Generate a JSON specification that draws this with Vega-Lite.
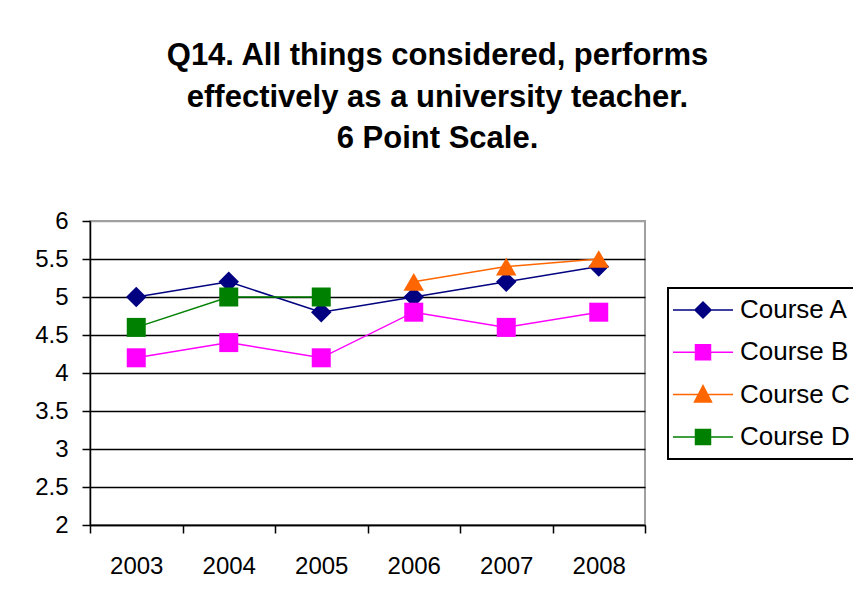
{
  "$schema": "https://vega.github.io/schema/vega-lite/v6.json",
  "width": 555,
  "height": 304,
  "autosize": "none",
  "padding": {"left": 90, "top": 221, "right": 208, "bottom": 76},
  "background": "white",
  "title": {
    "text": ["Q14. All things considered, performs", "effectively as a university teacher.", "6 Point Scale."],
    "font": "Liberation Sans",
    "fontSize": 31,
    "fontWeight": "bold",
    "color": "black",
    "lineHeight": 41.5,
    "anchor": "middle",
    "frame": "group",
    "dx": 70,
    "offset": 54
  },
  "data": {
    "values": [
      {"year": "2003", "course": "Course A", "score": 5.0},
      {"year": "2004", "course": "Course A", "score": 5.2},
      {"year": "2005", "course": "Course A", "score": 4.8},
      {"year": "2006", "course": "Course A", "score": 5.0},
      {"year": "2007", "course": "Course A", "score": 5.2},
      {"year": "2008", "course": "Course A", "score": 5.4},
      {"year": "2003", "course": "Course B", "score": 4.2},
      {"year": "2004", "course": "Course B", "score": 4.4},
      {"year": "2005", "course": "Course B", "score": 4.2},
      {"year": "2006", "course": "Course B", "score": 4.8},
      {"year": "2007", "course": "Course B", "score": 4.6},
      {"year": "2008", "course": "Course B", "score": 4.8},
      {"year": "2006", "course": "Course C", "score": 5.2},
      {"year": "2007", "course": "Course C", "score": 5.4},
      {"year": "2008", "course": "Course C", "score": 5.5},
      {"year": "2003", "course": "Course D", "score": 4.6},
      {"year": "2004", "course": "Course D", "score": 5.0},
      {"year": "2005", "course": "Course D", "score": 5.0}
    ]
  },
  "encoding": {
    "x": {
      "field": "year",
      "type": "nominal",
      "scale": {"type": "band", "paddingInner": 0, "paddingOuter": 0},
      "axis": {
        "title": null,
        "labelAngle": 0,
        "tickBand": "extent",
        "grid": false,
        "domainColor": "black",
        "domainWidth": 1.5,
        "tickColor": "black",
        "tickWidth": 1.5,
        "tickSize": 8,
        "labelFont": "Liberation Sans",
        "labelFontSize": 24,
        "labelColor": "black",
        "labelPadding": 21
      }
    },
    "y": {
      "field": "score",
      "type": "quantitative",
      "scale": {"domain": [2, 6], "nice": false, "zero": false},
      "axis": {
        "title": null,
        "values": [2, 2.5, 3, 3.5, 4, 4.5, 5, 5.5, 6],
        "format": "~g",
        "grid": true,
        "gridColor": {"condition": {"test": "datum.value === 6", "value": "#a0a0a0"}, "value": "black"},
        "gridWidth": 1.5,
        "domainColor": "black",
        "domainWidth": 1.5,
        "tickColor": "black",
        "tickWidth": 1.5,
        "tickSize": 8,
        "labelFont": "Liberation Sans",
        "labelFontSize": 24,
        "labelColor": "black",
        "labelPadding": 14
      }
    }
  },
  "layer": [
    {
      "mark": {"type": "line", "strokeWidth": 1.5},
      "encoding": {
        "color": {
          "field": "course",
          "type": "nominal",
          "scale": {"domain": ["Course A", "Course B", "Course C", "Course D"], "range": ["#000080", "#FF00FF", "#FF6600", "#008000"]}
        }
      }
    },
    {
      "transform": [{"filter": "datum.course === 'Course A'"}],
      "mark": {"type": "point", "filled": true, "opacity": 1, "shape": "diamond", "size": 420, "color": "#000080"}
    },
    {
      "transform": [{"filter": "datum.course === 'Course B'"}],
      "mark": {"type": "point", "filled": true, "opacity": 1, "shape": "square", "size": 361, "color": "#FF00FF"}
    },
    {
      "transform": [{"filter": "datum.course === 'Course C'"}],
      "mark": {"type": "point", "filled": true, "opacity": 1, "shape": "triangle-up", "size": 420, "color": "#FF6600"}
    },
    {
      "transform": [{"filter": "datum.course === 'Course D'"}],
      "mark": {"type": "point", "filled": true, "opacity": 1, "shape": "square", "size": 361, "color": "#008000"}
    },
    {
      "mark": {"type": "point", "filled": true, "opacity": 0, "size": 400},
      "encoding": {
        "color": {
          "field": "course",
          "type": "nominal",
          "legend": {
            "title": null,
            "orient": "none",
            "legendX": 578,
            "legendY": 67,
            "padding": 9,
            "strokeColor": "black",
            "symbolSize": 400,
            "symbolOffset": 13,
            "symbolOpacity": 1,
            "symbolStrokeWidth": 1.5,
            "labelOffset": 24,
            "labelFont": "Liberation Sans",
            "labelFontSize": 26,
            "labelColor": "black",
            "labelLimit": 300,
            "rowPadding": 16.3
          }
        },
        "shape": {
          "field": "course",
          "type": "nominal",
          "scale": {
            "domain": ["Course A", "Course B", "Course C", "Course D"],
            "range": [
              "M-3,0H3M0,-0.8L0.8,0L0,0.8L-0.8,0Z",
              "M-3,0H3M-0.75,-0.75H0.75V0.75H-0.75Z",
              "M-3,0H3M0,-0.9L0.85,0.75H-0.85Z",
              "M-3,0H3M-0.75,-0.75H0.75V0.75H-0.75Z"
            ]
          },
          "legend": {
            "title": null,
            "orient": "none",
            "legendX": 578,
            "legendY": 67,
            "padding": 9,
            "strokeColor": "black",
            "symbolSize": 400,
            "symbolOffset": 13,
            "symbolOpacity": 1,
            "symbolStrokeWidth": 1.5,
            "labelOffset": 24,
            "labelFont": "Liberation Sans",
            "labelFontSize": 26,
            "labelColor": "black",
            "labelLimit": 300,
            "rowPadding": 16.3
          }
        }
      }
    }
  ],
  "config": {
    "view": {"stroke": "#a0a0a0", "strokeWidth": 2},
    "legend": {"strokeWidth": 2}
  }
}
